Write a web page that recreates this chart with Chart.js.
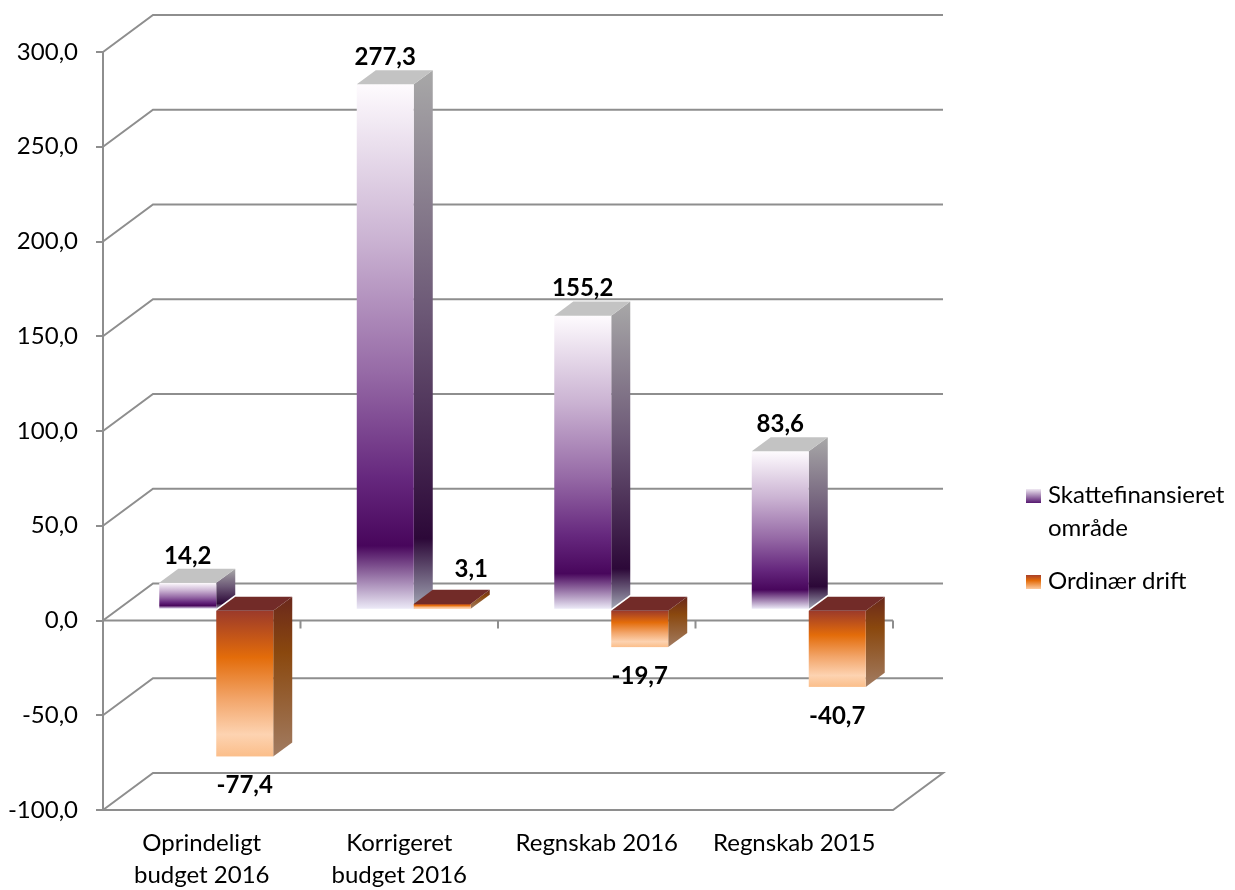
<!DOCTYPE html>
<html>
<head>
<meta charset="utf-8">
<script src="https://cdn.jsdelivr.net/npm/chart.js@4.4.1/dist/chart.umd.min.js"></script>
<style>
  html, body { margin: 0; padding: 0; background: #fff; }
  canvas { display: block; }
</style>
</head>
<body>
<canvas id="chart" width="1235" height="890"></canvas>
<script>
// Data
const categories = [['Oprindeligt', 'budget 2016'], ['Korrigeret', 'budget 2016'], 'Regnskab 2016', 'Regnskab 2015'];
const seriesNames = ['Skattefinansieret område', 'Ordinær drift'];
const legendLines = [['Skattefinansieret', 'område'], ['Ordinær drift']];
const skattefinansieret = [14.2, 277.3, 155.2, 83.6];
const ordinaerDrift = [-77.4, 3.1, -19.7, -40.7];
const yMin = -100, yMax = 300, yStep = 50;

// 3D look (oblique projection like the Excel original)
const DEPTH = { x: 50, y: -37 };
const BAR_FRONT = 0.29;
const BAR_DEPTH = 0.38;
const GRID = '#8e8e8e';
const FAMILY = 'Lato, "Open Sans", sans-serif';
const labelNudge = { '1-1': [29, -8] }; // Excel moved the small 3,1 label aside

const fmt = v => Number(v).toFixed(1).replace('.', ',');

function vGrad(ctx, y0, y1, stops) {
    const g = ctx.createLinearGradient(0, y0, 0, y1 === y0 ? y0 + 1 : y1);
    stops.forEach(s => g.addColorStop(s[0], s[1]));
    return g;
}

const styles = [
    {
        front: [[0, '#fefbfe'], [0.3, '#cab2d2'], [0.55, '#966aa6'], [0.75, '#66287e'], [0.88, '#48065c'], [1, '#eceaf7']],
        side: [[0, '#a8a8a8'], [0.45, '#6c5876'], [0.87, '#2c0838'], [1, '#a4a8b6']],
        top: '#c3c3c3',
        legend: [[0, '#efe8f2'], [1, '#561870']]
    },
    {
        front: [[0, '#9c3a2a'], [0.32, '#e36c0a'], [0.6, '#f2a468'], [0.85, '#fdd3b1'], [1, '#fbbe8a']],
        side: [[0, '#6a281c'], [0.35, '#8a480e'], [1, '#a27c62']],
        top: '#722b28',
        legend: [[0, '#a8402a'], [0.4, '#e46c0a'], [1, '#fccaa0']]
    }
];

function drawBar(ctx, L, R, T, B, st) {
    const dx = DEPTH.x * BAR_DEPTH, dy = DEPTH.y * BAR_DEPTH;
    // side
    ctx.beginPath();
    ctx.moveTo(R, T); ctx.lineTo(R + dx, T + dy); ctx.lineTo(R + dx, B + dy); ctx.lineTo(R, B);
    ctx.closePath();
    ctx.fillStyle = vGrad(ctx, T + dy, B, st.side);
    ctx.fill();
    // front
    ctx.fillStyle = vGrad(ctx, T, B, st.front);
    ctx.fillRect(L, T, R - L, B - T);
    // top
    ctx.beginPath();
    ctx.moveTo(L, T); ctx.lineTo(R, T); ctx.lineTo(R + dx, T + dy); ctx.lineTo(L + dx, T + dy);
    ctx.closePath();
    ctx.fillStyle = st.top;
    ctx.fill();
}

function barRects(chart, cb) {
    const ox = DEPTH.x * BAR_FRONT, oy = DEPTH.y * BAR_FRONT;
    chart.data.datasets.forEach((ds, di) => {
        chart.getDatasetMeta(di).data.forEach((el, i) => {
            const p = el.getProps(['x', 'y', 'base', 'width'], true);
            cb({
                di, i, value: ds.data[i],
                L: p.x - p.width / 2 + ox, R: p.x + p.width / 2 + ox,
                T: Math.min(p.y, p.base) + oy, B: Math.max(p.y, p.base) + oy
            });
        });
    });
}

const plugin3d = {
    id: 'plugin3d',
    beforeDatasetsDraw(chart) {
        const ctx = chart.ctx;
        const xs = chart.scales.x, ys = chart.scales.y;
        const left = chart.chartArea.left, right = chart.chartArea.right;
        ctx.save();
        ctx.strokeStyle = GRID;
        ctx.lineWidth = 2;
        ys.ticks.forEach(t => {
            const py = ys.getPixelForValue(t.value);
            ctx.beginPath();
            ctx.moveTo(left, py);
            ctx.lineTo(left + DEPTH.x, py + DEPTH.y);
            ctx.lineTo(right + DEPTH.x, py + DEPTH.y);
            if (t.value === yMin) {
                ctx.lineTo(right, py);
                ctx.lineTo(left, py);
            }
            ctx.stroke();
        });
        // category axis at 0
        const y0 = ys.getPixelForValue(0);
        ctx.beginPath();
        ctx.moveTo(left, y0);
        ctx.lineTo(right, y0);
        const half = (xs.getPixelForValue(1) - xs.getPixelForValue(0)) / 2;
        categories.forEach((c, i) => {
            const bx = xs.getPixelForValue(i) + half;
            ctx.moveTo(bx, y0);
            ctx.lineTo(bx, y0 + 8);
        });
        ctx.stroke();
        ctx.restore();
    },
    afterDatasetsDraw(chart) {
        const ctx = chart.ctx;
        ctx.save();
        const rects = [];
        barRects(chart, r => rects.push(r));
        rects.sort((a, b) => a.L - b.L).forEach(r => drawBar(ctx, r.L, r.R, r.T, r.B, styles[r.di]));
        ctx.fillStyle = '#000';
        ctx.font = 'bold 24px ' + FAMILY;
        ctx.textAlign = 'center';
        ctx.textBaseline = 'middle';
        rects.forEach(r => {
            let x = (r.L + r.R) / 2;
            let y = r.value >= 0 ? r.T - 27 : r.B + 29;
            const n = labelNudge[r.di + '-' + r.i];
            if (n) { x += n[0]; y += n[1]; }
            ctx.fillText(fmt(r.value), x, y);
        });
        ctx.restore();
    },
    afterDraw(chart) {
        const ctx = chart.ctx;
        ctx.save();
        ctx.font = '24px ' + FAMILY;
        ctx.fillStyle = '#000';
        ctx.textAlign = 'left';
        ctx.textBaseline = 'alphabetic';
        const baselines = [503, 589];
        legendLines.forEach((lines, k) => {
            const b = baselines[k];
            ctx.fillStyle = vGrad(ctx, b - 14, b, styles[k].legend);
            ctx.fillRect(1026, b - 14, 15, 14);
            ctx.fillStyle = '#000';
            lines.forEach((txt, j) => ctx.fillText(txt, 1048, b + j * 33));
        });
        ctx.restore();
    }
};

const tickFont = { family: FAMILY, size: 24, lineHeight: 1.3 };

new Chart(document.getElementById('chart'), {
    type: 'bar',
    data: {
        labels: categories,
        datasets: [
            { label: seriesNames[0], data: skattefinansieret, backgroundColor: 'rgba(0,0,0,0)' },
            { label: seriesNames[1], data: ordinaerDrift, backgroundColor: 'rgba(0,0,0,0)' }
        ]
    },
    options: {
        responsive: false,
        animation: false,
        events: [],
        layout: { padding: { left: 0, top: 52, right: 342, bottom: 0 } },
        datasets: { bar: { categoryPercentage: 0.577, barPercentage: 1 } },
        plugins: { legend: { display: false }, tooltip: { enabled: false } },
        scales: {
            x: {
                grid: { display: false },
                border: { display: false },
                ticks: { font: tickFont, color: '#000', padding: 10, maxRotation: 0, autoSkip: false },
                afterFit: s => { s.height = 80; }
            },
            y: {
                min: yMin,
                max: yMax,
                ticks: { stepSize: yStep, callback: fmt, font: tickFont, color: '#000', padding: 18 },
                grid: { drawOnChartArea: false, tickLength: 7, color: GRID, lineWidth: 2 },
                border: { color: GRID, width: 2 },
                afterFit: s => { s.width = 103; }
            }
        }
    },
    plugins: [plugin3d]
});
</script>
</body>
</html>
